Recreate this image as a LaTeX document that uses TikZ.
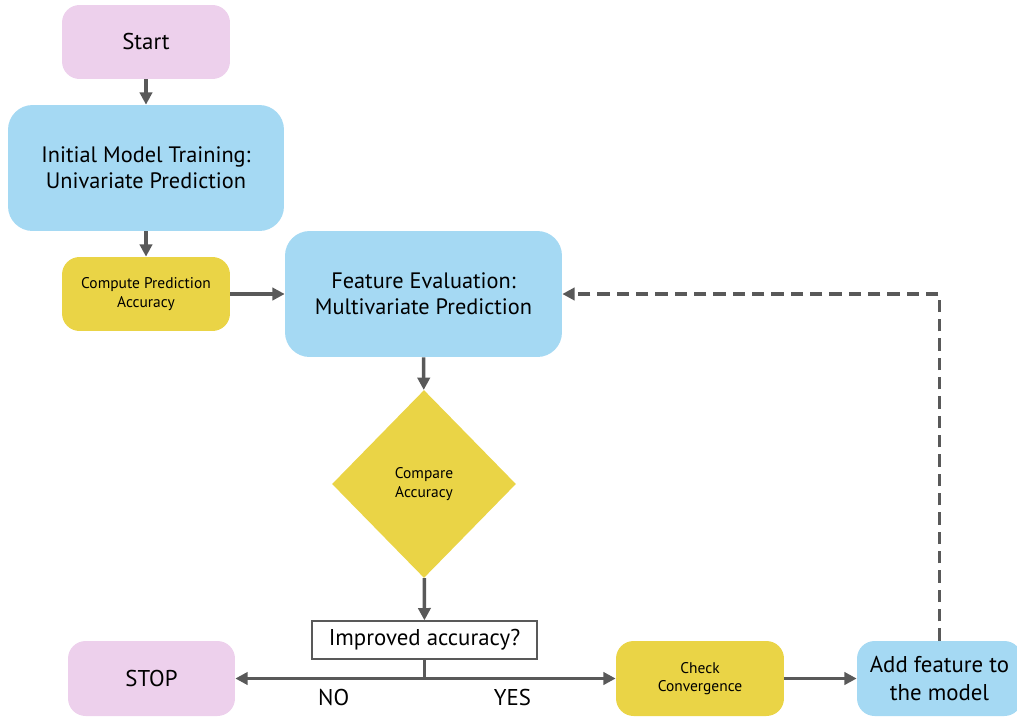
\documentclass[tikz,border=0pt]{standalone}
\usepackage{fontspec}
\setmainfont{PT Sans}
\usetikzlibrary{arrows.meta,shapes.geometric,positioning,calc}
\definecolor{pinkbox}{HTML}{EDD0EC}
\definecolor{bluebox}{HTML}{A5D9F3}
\definecolor{yellowbox}{HTML}{EAD446}
\definecolor{linegray}{HTML}{595959}
\tikzset{
  box/.style={draw=none,rounded corners=10pt,align=center,inner sep=2pt},
  termbox/.style={box,fill=pinkbox,minimum width=3.36cm,minimum height=1.48cm,font=\fontsize{13}{15}\selectfont},
  bigbox/.style={box,fill=bluebox,rounded corners=14pt,minimum width=5.54cm,minimum height=2.52cm,font=\fontsize{12.7}{15}\selectfont},
  calcbox/.style={box,fill=yellowbox,minimum width=3.36cm,minimum height=1.48cm,font=\fontsize{8.8}{10.5}\selectfont},
  decide/.style={diamond,fill=yellowbox,minimum width=3.68cm,minimum height=3.76cm,inner sep=0pt,align=center,font=\fontsize{8.8}{10.5}\selectfont},
  askbox/.style={draw=linegray,line width=0.8pt,fill=white,minimum width=4.5cm,minimum height=0.76cm,font=\fontsize{13}{15}\selectfont},
  lbl/.style={font=\fontsize{13}{15}\selectfont,below=2pt},
  flow/.style={draw=linegray,line width=2pt,-{Triangle[length=7pt,width=7pt]}},
  back/.style={flow,dashed,dash pattern=on 7pt off 4pt}
}
\begin{document}
\begin{tikzpicture}[x=0.02cm,y=-0.02cm]
\useasboundingbox (0,0) rectangle (1017,717);
% linke Spalte
\node[termbox] (start) at (146,42) {Start};
\node[bigbox,minimum width=5.52cm] (init) at (146,168) {Initial Model Training:\\Univariate Prediction};
\node[calcbox] (acc) at (146,294) {Compute Prediction\\Accuracy};
% Mitte
\node[bigbox] (feat) at (423.5,294) {Feature Evaluation:\\Multivariate Prediction};
\node[decide] (cmp) at (424,484) {Compare\\Accuracy};
\node[askbox] (ask) at (424.5,640) {Improved accuracy?};
% unten
\node[termbox,minimum height=1.5cm,minimum width=3.34cm] (stop) at (151.5,678.5) {STOP};
\node[calcbox,minimum height=1.5cm] (conv) at (700,678.5) {Check\\Convergence};
\node[box,fill=bluebox,minimum width=3.3cm,minimum height=1.5cm,font=\fontsize{13}{15.5}\selectfont] (add) at (939.5,678.5) {Add feature to\\the model};
\coordinate (split) at (ask.south |- stop.east);
% Pfeile
\draw[flow] (start) -- (init);
\draw[flow] (init) -- (acc);
\draw[flow] (acc) -- (feat);
\draw[flow] (feat) -- (cmp);
\draw[flow] (cmp) -- (ask);
\draw[draw=linegray,line width=2pt] (ask.south) -- (split);
\draw[flow] (split) -- node[lbl,pos=0.48] (no) {NO} (stop.east);
\draw[flow] (split) -- node[lbl,pos=0.46] (yes) {YES} (conv.west);
\draw[flow] (conv) -- (add);
\draw[back] (add.north) |- (feat.east);
\end{tikzpicture}
\end{document}
